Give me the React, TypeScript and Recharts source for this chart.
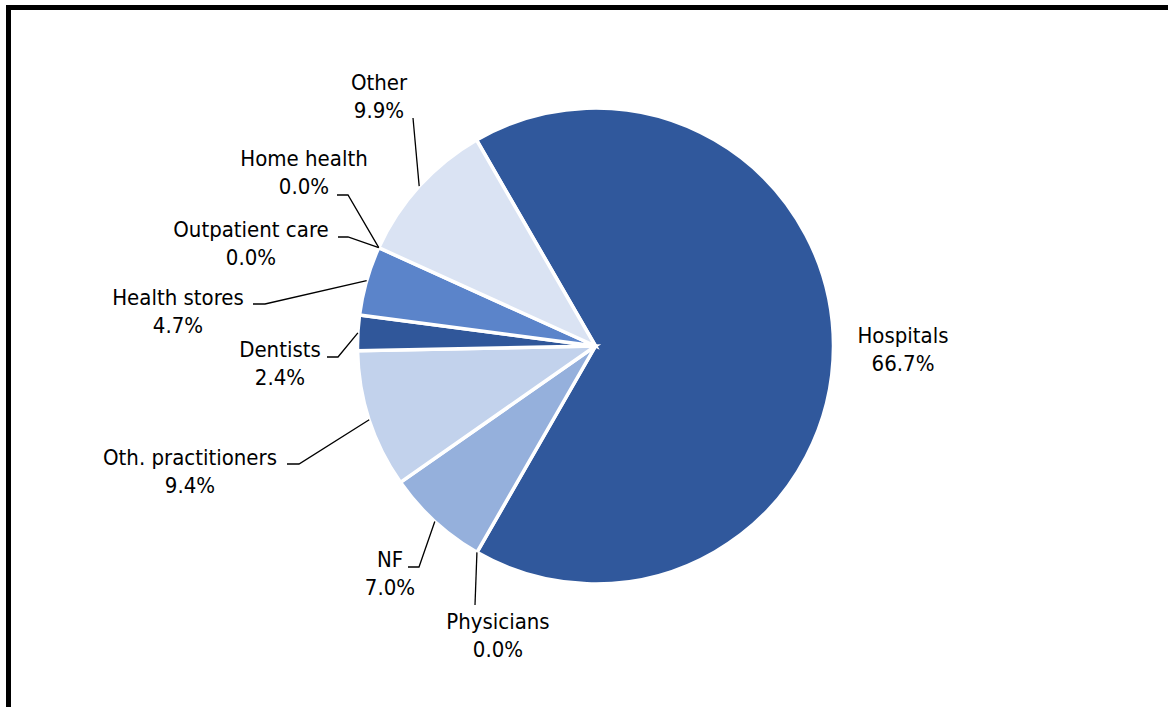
import { PieChart, Pie, Cell } from "recharts";

// Share of spending by provider type (%)
const categories = [
  "Hospitals",
  "Physicians",
  "NF",
  "Oth. practitioners",
  "Dentists",
  "Health stores",
  "Outpatient care",
  "Home health",
  "Other",
];
const shares = [66.7, 0.0, 7.0, 9.4, 2.4, 4.7, 0.0, 0.0, 9.9];
const colors = [
  "#30589C",
  "#30589C",
  "#95B0DC",
  "#C2D2EC",
  "#30579A",
  "#5B84CA",
  "#5B84CA",
  "#DAE3F3",
  "#DAE3F3",
];

const data = categories.map((name, i) => ({ name, value: shares[i] }));

// where Excel put each label: text centre / first baseline, then leader line points
const labelLayout: Record<string, { x: number; y: number; line?: number[][] }> = {
  Hospitals: { x: 903, y: 343 },
  Physicians: { x: 498, y: 629, line: [[475, 605]] },
  NF: { x: 390, y: 567, line: [[419, 567], [408, 567]] },
  "Oth. practitioners": { x: 190, y: 465, line: [[299, 464], [287, 464]] },
  Dentists: { x: 280, y: 357, line: [[338, 357], [327, 357]] },
  "Health stores": { x: 178, y: 305, line: [[265, 304], [253, 304]] },
  "Outpatient care": { x: 251, y: 237, line: [[348, 237], [338, 237]] },
  "Home health": { x: 304, y: 166, line: [[348, 195], [337, 195]] },
  Other: { x: 379, y: 90, line: [[413, 118]] },
};

const FONT = '"DejaVu Sans Condensed", "DejaVu Sans", Verdana, sans-serif';
const RAD = Math.PI / 180;

function renderLabel(props: any) {
  const { cx, cy, midAngle, outerRadius, name, value, index } = props;
  const lay = labelLayout[name];
  if (!lay) return null;
  const px = cx + outerRadius * Math.cos(-midAngle * RAD);
  const py = cy + outerRadius * Math.sin(-midAngle * RAD);
  const pts = lay.line ? [[px, py], ...lay.line] : null;
  return (
    <g key={`lbl-${index}`}>
      {pts && (
        <polyline
          points={pts.map((p) => p.join(",")).join(" ")}
          fill="none"
          stroke="#000"
          strokeWidth={1.3}
        />
      )}
      <text x={lay.x} y={lay.y} textAnchor="middle" fontFamily={FONT} fontSize={22} fill="#000">
        {name}
      </text>
      <text x={lay.x} y={lay.y + 28} textAnchor="middle" fontFamily={FONT} fontSize={22} fill="#000">
        {Number(value).toFixed(1)}%
      </text>
    </g>
  );
}

export default function App() {
  return (
    <div
      style={{
        position: "absolute",
        left: 0,
        top: 0,
        width: 1168,
        height: 707,
        overflow: "hidden",
        background: "#fff",
      }}
    >
      <div
        style={{
          position: "absolute",
          left: 6,
          top: 5,
          width: 1300,
          height: 900,
          border: "5px solid #000",
        }}
      />
      <div style={{ position: "absolute", left: 0, top: 0 }}>
        <PieChart width={1168} height={707} margin={{ top: 0, right: 0, bottom: 0, left: 0 }}>
          <Pie
            data={data}
            dataKey="value"
            nameKey="name"
            cx={595.5}
            cy={346}
            outerRadius={238}
            startAngle={120}
            endAngle={-240}
            stroke="#fff"
            strokeWidth={3.5}
            label={renderLabel}
            labelLine={false}
            isAnimationActive={false}
          >
            {data.map((d, i) => (
              <Cell key={d.name} fill={colors[i]} />
            ))}
          </Pie>
        </PieChart>
      </div>
    </div>
  );
}
